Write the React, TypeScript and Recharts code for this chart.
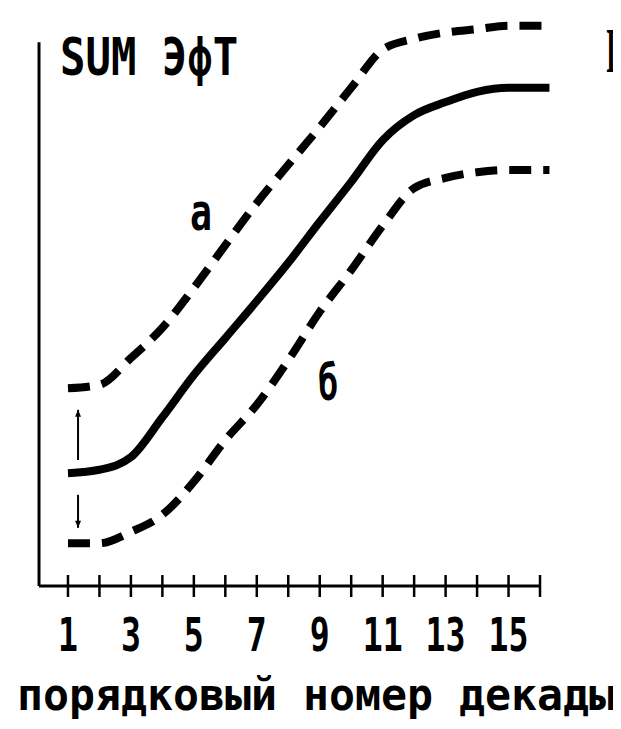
import React from 'react';
import { LineChart, Line, XAxis, YAxis, ReferenceLine, ReferenceDot } from 'recharts';

// decade number along the x axis (last point is the tail of the flat part)
const decades = [1, 2, 3, 4, 5, 6, 7, 8, 9, 10, 11, 12, 13, 14, 15, 16, 16.3];
// curve "a" (upper dashed)
const upperA = [34.7, 35.3, 40.0, 45.3, 52.3, 59.8, 67.2, 73.9, 80.5, 87.4, 94.1, 96.0, 97.1, 97.7, 98.3, 98.3, 98.3];
// mean curve (solid)
const meanSum = [19.8, 20.4, 22.6, 29.6, 37.0, 43.5, 50.0, 56.7, 63.9, 70.9, 78.2, 82.6, 84.9, 86.7, 87.4, 87.4, 87.4];
// curve "б" (lower dashed)
const lowerB = [7.5, 7.5, 9.5, 12.5, 18.3, 25.6, 31.8, 39.6, 48.1, 55.4, 63.2, 69.8, 71.6, 72.6, 73.0, 73.0, 73.0];

const xTicks = [1, 2, 3, 4, 5, 6, 7, 8, 9, 10, 11, 12, 13, 14, 15, 16];
const xTickLabels = [1, 3, 5, 7, 9, 11, 13, 15];

// spread arrows: [x, from, to]
const arrows = [
  [1.32, 22.1, 30.9],
  [1.32, 16.0, 10.2],
];

// text annotations: [text, x, y, size, width, family]
const notes: [string, number, number, number, number, string][] = [
  ['SUM ЭфТ', 0.75, 89.6, 51, 178, '"DejaVu Sans Mono", monospace'],
  ['а', 4.88, 62.5, 52, 22, '"DejaVu Sans Mono", monospace'],
  ['б', 8.95, 32.6, 50, 20, '"DejaVu Sans Mono", monospace'],
  ['I', 18.1, 90.2, 64, 10, '"Liberation Serif", serif'],
];

const data = decades.map((d, i) => ({ d, a: upperA[i], m: meanSum[i], b: lowerB[i] }));

const mono = '"DejaVu Sans Mono", monospace';

function Tick(props: any) {
  const { x, y, payload } = props;
  const v = payload.value;
  const showLabel = xTickLabels.includes(v);
  const s = String(v);
  return (
    <g>
      <line x1={x} x2={x} y1={y - 11} y2={y + 11} stroke="#000" strokeWidth={2.5} />
      {showLabel && (
        <text
          x={x}
          y={y + 65}
          textAnchor="middle"
          fontFamily={mono}
          fontWeight="bold"
          fontSize={46}
          textLength={20 * s.length}
          lengthAdjust="spacingAndGlyphs"
          fill="#000"
        >
          {s}
        </text>
      )}
    </g>
  );
}

function AxisTitle(props: any) {
  const { viewBox } = props;
  return (
    <text
      x={viewBox.x - 19.5}
      y={viewBox.y + 124}
      fontFamily={mono}
      fontWeight="bold"
      fontSize={44}
      textLength={598}
      lengthAdjust="spacingAndGlyphs"
      fill="#000"
    >
      порядковый номер декады
    </text>
  );
}

function arrowShape(props: any) {
  const { x1, y1, x2, y2 } = props;
  const dir = y2 < y1 ? -1 : 1;
  return (
    <g>
      <line x1={x1} y1={y1} x2={x2} y2={y2} stroke="#000" strokeWidth={2} />
      <polygon points={`${x2},${y2} ${x2 - 3},${y2 - dir * 7} ${x2 + 3},${y2 - dir * 7}`} fill="#000" />
    </g>
  );
}

export default function App() {
  return (
    <div style={{ margin: '-8px -8px -8px -8px', width: 621, height: 729, background: '#fff' }}>
      <LineChart width={621} height={729} data={data} margin={{ top: 16, right: 68.4, left: 36.5, bottom: 0 }}>
        <XAxis
          dataKey="d"
          type="number"
          domain={[0, 16.4]}
          ticks={xTicks}
          interval={0}
          axisLine={false}
          tickLine={false}
          tickSize={0}
          tickMargin={0}
          height={143}
          tick={<Tick />}
          label={<AxisTitle />}
        />
        <YAxis type="number" domain={[0, 100]} hide />
        <ReferenceLine segment={[{ x: 0.08, y: 0 }, { x: 0.08, y: 95.4 }]} stroke="#000" strokeWidth={3} ifOverflow="visible" />
        <ReferenceLine segment={[{ x: 0.08, y: 0 }, { x: 16, y: 0 }]} stroke="#000" strokeWidth={3} ifOverflow="visible" />
        {arrows.map((a, i) => (
          <ReferenceLine key={i} segment={[{ x: a[0], y: a[1] }, { x: a[0], y: a[2] }]} shape={arrowShape} ifOverflow="visible" />
        ))}
        <Line type="monotone" dataKey="a" stroke="#000" strokeWidth={8} strokeDasharray="22 12" dot={false} isAnimationActive={false} />
        <Line type="monotone" dataKey="m" stroke="#000" strokeWidth={8} dot={false} isAnimationActive={false} />
        <Line type="monotone" dataKey="b" stroke="#000" strokeWidth={8} strokeDasharray="22 12" dot={false} isAnimationActive={false} />
        {notes.map((n, i) => (
          <ReferenceDot
            key={'n' + i}
            x={n[1]}
            y={n[2]}
            r={0}
            ifOverflow="visible"
            shape={(p: any) => (
              <text
                x={p.cx}
                y={p.cy}
                fontFamily={n[5]}
                fontWeight="bold"
                fontSize={n[3]}
                textLength={n[4]}
                lengthAdjust="spacingAndGlyphs"
                fill="#000"
              >
                {n[0]}
              </text>
            )}
          />
        ))}
      </LineChart>
    </div>
  );
}
